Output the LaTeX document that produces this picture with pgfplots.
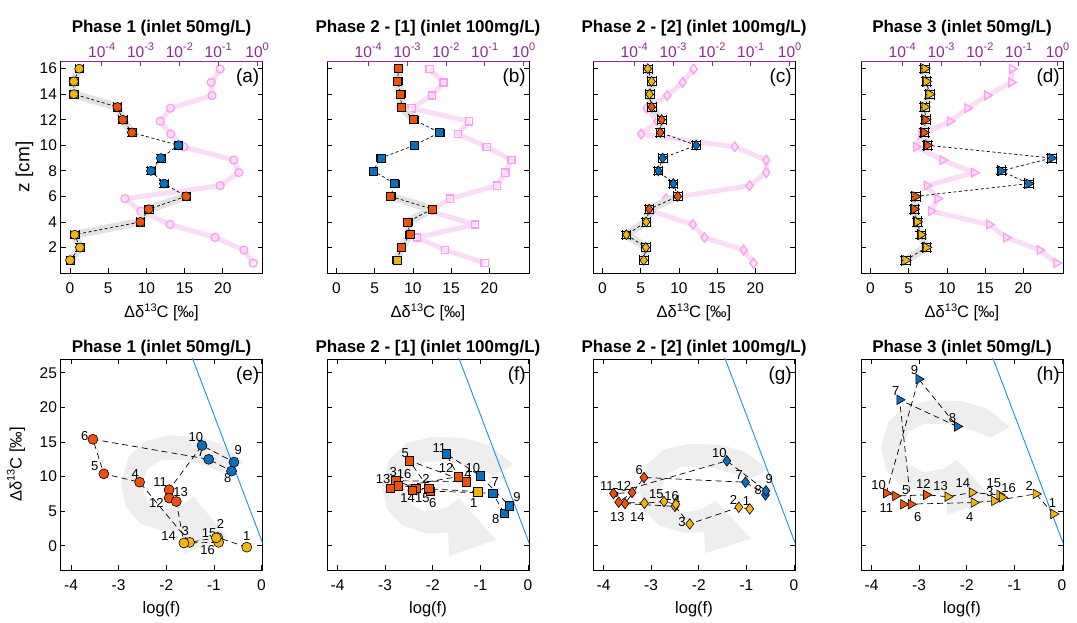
\documentclass[border=0pt]{standalone}
\usepackage{pgfplots}
\pgfplotsset{compat=1.18}
\usepackage{pgfplotstable}
\usepackage{fontspec}
\setmainfont{Liberation Sans}

\definecolor{yel}{HTML}{F2B50F}
\definecolor{org}{HTML}{F04F0E}
\definecolor{blu}{HTML}{0B6FC0}
\definecolor{pinkm}{HTML}{FF9BF5}
\definecolor{pinkb}{HTML}{F9DDF4}
\definecolor{purp}{HTML}{8E2A92}
\definecolor{bline}{HTML}{1F8FDB}
\definecolor{arrowgrey}{HTML}{EEEEEE}
\definecolor{bandgrey}{HTML}{E2E2E2}

\newcommand\tickfont{\fontsize{15.5}{17}\selectfont}
\newcommand\labfont{\fontsize{16.5}{18}\selectfont}
\newcommand\titfont{\fontsize{17}{19}\selectfont\bfseries}
\newcommand\sus[1]{\raisebox{0.42em}{\fontsize{11}{11}\selectfont #1}}
\newcommand\ddc{Δδ\sus{13}C [‰]}

% curved grey arrow (unit shape, placed by each overlay axis' limits)
\pgfplotstableread{
u v
1.58 0.44
1.10 0.85
0.60 1.00
0.00 1.02
-0.50 0.90
-0.85 0.55
-1.00 0.00
-0.90 -0.50
-0.60 -0.85
-0.10 -1.02
0.30 -1.00
0.32 -1.49
1.24 -1.15
0.52 -0.28
0.25 -0.48
-0.15 -0.56
-0.45 -0.38
-0.56 0.00
-0.45 0.32
-0.15 0.50
0.35 0.50
0.85 0.35
1.20 0.20
}\arrowtab

\tikzset{
 lbl/.style={font=\fontsize{13}{13}\selectfont, inner sep=0pt},
 plab/.style={font=\fontsize{19}{19}\selectfont, anchor=north east, inner sep=0pt},
}

\pgfplotsset{
 /pgf/number format/assume math mode=true,
 panel/.style={scale only axis, width=202pt, height=212pt, tick align=inside,
   major tick length=5pt, tick label style={font=\tickfont},
   axis line style={line width=0.7pt}, tick style={line width=0.7pt,black},
   label style={font=\labfont}},
 topmain/.style={panel, xmin=-1.25, xmax=25.2, ymin=0, ymax=16.6,
   xtick={0,5,10,15,20}, ytick={2,4,...,16}, xtick pos=bottom, ytick pos=both,
   xticklabel style={yshift=-6pt},
   xlabel={\ddc}, xlabel style={at={(axis description cs:0.5,0)}, anchor=base, yshift=-45pt},
   title style={at={(axis description cs:0.5,1)}, anchor=base, yshift=22pt, font=\titfont}},
 toplog/.style={panel, xmin=-5.06, xmax=0.14, ymin=0, ymax=16.6, hide axis},
 toplogaxis/.style={panel, xmin=-5.06, xmax=0.14, ymin=0, ymax=16.6,
   axis x line*=top, axis y line=none, x axis line style={purp,-},
   xtick={-4,-3,-2,-1,0},
   xticklabels={10\sus{-4},10\sus{-3},10\sus{-2},10\sus{-1},10\sus{0}},
   xticklabel style={text=purp}, xtick style={purp}},
 bot/.style={panel, height=211pt, xmin=-4.22, xmax=0.02, ymin=-3.5, ymax=27,
   xtick={-4,-3,-2,-1,0}, ytick={0,5,...,25},
   xticklabel style={yshift=-6pt},
   xlabel={log(f)}, xlabel style={at={(axis description cs:0.5,0)}, anchor=base, yshift=-43pt},
   title style={at={(axis description cs:0.5,1)}, anchor=base, yshift=0pt, font=\titfont}},
 grarrow/.style={panel, height=211pt, hide axis},
 pband/.style={pinkb, line width=5pt, line join=round},
 pmark/.style={only marks, mark options={draw=pinkm, fill=white, line width=1.3pt}},
 pmarkt/.style={only marks, mark options={draw=pinkm, fill=white, line width=1.3pt, rotate=-90}},
 gband/.style={bandgrey, line width=8pt, line join=round},
 dline/.style={black, line width=0.7pt, dash pattern=on 3pt off 2.5pt},
 bdline/.style={black, line width=0.7pt, dash pattern=on 6pt off 4pt},
 errs/.style={only marks, error bars/x dir=both, error bars/x fixed=0.55,
   error bars/y dir=both, error bars/y fixed=0.3,
   error bars/error bar style={line width=0.6pt,black}},
 fm/.style={mark options={draw=black, fill=#1, line width=0.6pt}},
 fmt/.style={mark options={draw=black, fill=#1, line width=0.6pt, rotate=-90}},
}

\begin{document}
\begin{tikzpicture}
\path[use as bounding box] (0,0) rectangle (1077pt,622pt);

%================ (a) =================
\begin{axis}[toplog, at={(60.5pt,349pt)}]
\addplot[pband] coordinates {(-0.10,0.78) (-0.34,1.8) (-1.08,2.78) (-2.24,3.8) (-2.99,4.84) (-3.40,5.82) (-0.95,6.84) (-0.47,7.86) (-0.60,8.84) (-1.89,9.88) (-2.22,10.88) (-2.49,11.88) (-2.23,12.9) (-1.16,13.9) (-1.18,14.92) (-0.95,15.97)};
\addplot[pmark, mark=o, mark size=4pt] coordinates {(-0.10,0.78) (-0.34,1.8) (-1.08,2.78) (-2.24,3.8) (-2.99,4.84) (-3.40,5.82) (-0.95,6.84) (-0.47,7.86) (-0.60,8.84) (-1.89,9.88) (-2.22,10.88) (-2.49,11.88) (-2.23,12.9) (-1.16,13.9) (-1.18,14.92) (-0.95,15.97)};
\end{axis}
\begin{axis}[topmain, at={(60.5pt,349pt)}, title={Phase 1 (inlet 50mg/L)},
  ylabel={z [cm]}, ylabel style={at={(axis description cs:-0.154,0.5)}, anchor=base, font=\fontsize{19}{19}\selectfont}]
\addplot[gband] coordinates {(8.1,11) (6.9,12) (6.2,13) (0.5,14) (0.5,15) (1.2,16)};
\addplot[gband] coordinates {(0,1) (1.3,2) (0.6,3) (9.2,4) (10.3,5) (15.2,6)};
\addplot[dline] coordinates {(0,1) (1.3,2) (0.6,3) (9.2,4) (10.3,5) (15.2,6) (12.3,7) (10.6,8) (11.9,9) (14.2,10) (8.1,11) (6.9,12) (6.2,13) (0.5,14) (0.5,15) (1.2,16)};
\addplot[errs, mark=*, mark size=4.5pt, fm=yel] coordinates {(0,1) (1.3,2) (0.6,3) (0.5,14) (0.5,15) (1.2,16)};
\addplot[errs, mark=*, mark size=4.5pt, fm=org] coordinates {(9.2,4) (10.3,5) (15.2,6) (8.1,11) (6.9,12) (6.2,13)};
\addplot[errs, mark=*, mark size=4.5pt, fm=blu] coordinates {(12.3,7) (10.6,8) (11.9,9) (14.2,10)};
\node[plab] at (axis description cs:0.985,0.965) {(a)};
\end{axis}
\begin{axis}[toplogaxis, at={(60.5pt,349pt)}]
\node[font=\tickfont, text=purp, anchor=base] at (axis description cs:-0.03,1) [yshift=6pt] {f [-]};
\end{axis}

%================ (b) =================
\begin{axis}[toplog, at={(327pt,349pt)}]
\addplot[pband] coordinates {(-1.0,0.78) (-2.02,1.8) (-2.74,2.78) (-1.25,3.8) (-2.42,4.84) (-1.89,5.82) (-0.69,6.84) (-0.47,7.86) (-0.31,8.84) (-0.95,9.88) (-1.69,10.88) (-1.41,11.88) (-2.88,12.9) (-2.36,13.9) (-2.06,14.92) (-2.42,15.97)};
\addplot[pmark, mark=square, mark size=3.6pt] coordinates {(-1.0,0.78) (-2.02,1.8) (-2.74,2.78) (-1.25,3.8) (-2.42,4.84) (-1.89,5.82) (-0.69,6.84) (-0.47,7.86) (-0.31,8.84) (-0.95,9.88) (-1.69,10.88) (-1.41,11.88) (-2.88,12.9) (-2.36,13.9) (-2.06,14.92) (-2.42,15.97)};
\end{axis}
\begin{axis}[topmain, at={(327pt,349pt)}, title={Phase 2 - [1] (inlet 100mg/L)}, yticklabels={}]
\addplot[gband] coordinates {(10.1,12) (8.5,13) (8.4,14) (8.0,15) (8.1,16)};
\addplot[gband] coordinates {(7.9,1) (8.5,2) (9.6,3) (9.3,4) (12.5,5) (7.1,6)};
\addplot[dline] coordinates {(7.9,1) (8.5,2) (9.6,3) (9.3,4) (12.5,5) (7.1,6) (7.6,7) (4.8,8) (5.8,9) (10.2,10) (13.5,11) (10.1,12) (8.5,13) (8.4,14) (8.0,15) (8.1,16)};
\addplot[errs, mark=square*, mark size=4pt, fm=yel] coordinates {(7.9,1)};
\addplot[errs, mark=square*, mark size=4pt, fm=org] coordinates {(8.5,2) (9.6,3) (9.3,4) (12.5,5) (7.1,6) (10.1,12) (8.5,13) (8.4,14) (8.0,15) (8.1,16)};
\addplot[errs, mark=square*, mark size=4pt, fm=blu] coordinates {(7.6,7) (4.8,8) (5.8,9) (10.2,10) (13.5,11)};
\node[plab] at (axis description cs:0.985,0.965) {(b)};
\end{axis}
\begin{axis}[toplogaxis, at={(327pt,349pt)}]
\node[font=\tickfont, text=purp, anchor=base] at (axis description cs:-0.03,1) [yshift=6pt] {f [-]};
\end{axis}

%================ (c) =================
\begin{axis}[toplog, at={(593pt,349pt)}]
\addplot[pband] coordinates {(-0.93,0.78) (-1.18,1.8) (-2.19,2.78) (-2.49,3.8) (-3.55,4.84) (-3.18,5.82) (-1.03,6.84) (-0.6,7.86) (-0.6,8.84) (-1.41,9.88) (-3.82,10.88) (-3.40,11.88) (-3.68,12.9) (-3.15,13.9) (-2.75,14.92) (-2.47,15.97)};
\addplot[pmark, mark=diamond, mark size=4.8pt] coordinates {(-0.93,0.78) (-1.18,1.8) (-2.19,2.78) (-2.49,3.8) (-3.55,4.84) (-3.18,5.82) (-1.03,6.84) (-0.6,7.86) (-0.6,8.84) (-1.41,9.88) (-3.82,10.88) (-3.40,11.88) (-3.68,12.9) (-3.15,13.9) (-2.75,14.92) (-2.47,15.97)};
\end{axis}
\begin{axis}[topmain, at={(593pt,349pt)}, title={Phase 2 - [2] (inlet 100mg/L)}, yticklabels={}]
\addplot[gband] coordinates {(7.56,11) (7.74,12) (6.42,13) (6.15,14) (6.42,15) (5.93,16)};
\addplot[gband] coordinates {(5.4,1) (5.67,2) (3.12,3) (5.71,4) (6.11,5) (9.85,6)};
\addplot[dline] coordinates {(5.4,1) (5.67,2) (3.12,3) (5.71,4) (6.11,5) (9.85,6) (9.27,7) (7.3,8) (7.87,9) (12.26,10) (7.56,11) (7.74,12) (6.42,13) (6.15,14) (6.42,15) (5.93,16)};
\addplot[errs, mark=diamond*, mark size=5pt, fm=yel] coordinates {(5.4,1) (5.67,2) (3.12,3) (5.71,4) (6.15,14) (6.42,15) (5.93,16)};
\addplot[errs, mark=diamond*, mark size=5pt, fm=org] coordinates {(6.11,5) (9.85,6) (7.56,11) (7.74,12) (6.42,13)};
\addplot[errs, mark=diamond*, mark size=5pt, fm=blu] coordinates {(9.27,7) (7.3,8) (7.87,9) (12.26,10)};
\node[plab] at (axis description cs:0.985,0.965) {(c)};
\end{axis}
\begin{axis}[toplogaxis, at={(593pt,349pt)}]
\node[font=\tickfont, text=purp, anchor=base] at (axis description cs:-0.03,1) [yshift=6pt] {f [-]};
\end{axis}

%================ (d) =================
\begin{axis}[toplog, at={(861pt,349pt)}]
\addplot[pband] coordinates {(-0.03,0.78) (-0.46,1.8) (-1.32,2.78) (-1.76,3.8) (-3.26,4.84) (-3.09,5.82) (-3.37,6.84) (-2.15,7.86) (-2.96,8.84) (-3.64,9.88) (-3.5,10.88) (-2.77,11.88) (-2.32,12.9) (-1.81,13.9) (-1.19,14.92) (-1.17,15.97)};
\addplot[pmarkt, mark=triangle, mark size=5pt] coordinates {(-0.03,0.78) (-0.46,1.8) (-1.32,2.78) (-1.76,3.8) (-3.26,4.84) (-3.09,5.82) (-3.37,6.84) (-2.15,7.86) (-2.96,8.84) (-3.64,9.88) (-3.5,10.88) (-2.77,11.88) (-2.32,12.9) (-1.81,13.9) (-1.19,14.92) (-1.17,15.97)};
\end{axis}
\begin{axis}[topmain, at={(861pt,349pt)}, title={Phase 3 (inlet 50mg/L)}, yticklabels={}]
\addplot[gband] coordinates {(7.43,10) (7.0,11) (7.2,12) (7.09,13) (7.74,14) (7.3,15) (7.09,16)};
\addplot[gband] coordinates {(4.6,1) (7.3,2) (6.6,3) (6.1,4) (5.7,5) (5.9,6)};
\addplot[dline] coordinates {(4.6,1) (7.3,2) (6.6,3) (6.1,4) (5.7,5) (5.9,6) (20.7,7) (17.1,8) (23.7,9) (7.43,10) (7.0,11) (7.2,12) (7.09,13) (7.74,14) (7.3,15) (7.09,16)};
\addplot[errs, mark=triangle*, mark size=5.5pt, fmt=yel] coordinates {(4.6,1) (7.3,2) (6.6,3) (6.1,4) (7.09,13) (7.74,14) (7.3,15) (7.09,16)};
\addplot[errs, mark=triangle*, mark size=5.5pt, fmt=org] coordinates {(5.7,5) (5.9,6) (7.43,10) (7.0,11) (7.2,12)};
\addplot[errs, mark=triangle*, mark size=5.5pt, fmt=blu] coordinates {(20.7,7) (17.1,8) (23.7,9)};
\node[plab] at (axis description cs:0.985,0.965) {(d)};
\end{axis}
\begin{axis}[toplogaxis, at={(861pt,349pt)}]
\node[font=\tickfont, text=purp, anchor=base] at (axis description cs:-0.03,1) [yshift=6pt] {f [-]};
\end{axis}

%================ (e) =================
\begin{axis}[grarrow, at={(60.5pt,52pt)}, xmin=-2.27, xmax=1.97, ymin=-1.838, ymax=2.647]
\addplot[fill=arrowgrey, draw=none] table {\arrowtab};
\end{axis}
\begin{axis}[bot, at={(60.5pt,52pt)}, title={Phase 1 (inlet 50mg/L)},
  ylabel={\ddc}, ylabel style={at={(axis description cs:-0.193,0.5)}, anchor=base}]
\addplot[bline, line width=0.9pt] coordinates {(-1.5,28.0) (0.05,-0.1)};
\addplot[bdline] coordinates {(-0.31,-0.2) (-0.92,1.2) (-1.51,0.5) (-2.56,9.2) (-3.31,10.4) (-3.54,15.4) (-1.11,12.5) (-0.63,10.8) (-0.58,12.1) (-1.25,14.5) (-1.94,8.1) (-1.94,6.9) (-1.79,6.4) (-1.63,0.4) (-0.90,0.5) (-0.95,1.15)};
\addplot[only marks, mark=*, mark size=5pt, fm=yel] coordinates {(-0.31,-0.2) (-0.92,1.2) (-1.51,0.5) (-1.63,0.4) (-0.90,0.5) (-0.95,1.15)};
\addplot[only marks, mark=*, mark size=5pt, fm=org] coordinates {(-2.56,9.2) (-3.31,10.4) (-3.54,15.4) (-1.94,8.1) (-1.94,6.9) (-1.79,6.4)};
\addplot[only marks, mark=*, mark size=5pt, fm=blu] coordinates {(-1.11,12.5) (-0.63,10.8) (-0.58,12.1) (-1.25,14.5)};
\node[lbl] at (axis cs:-0.31,1.35) {1};
\node[lbl] at (axis cs:-0.86,3.2) {2};
\node[lbl] at (axis cs:-1.60,2.1) {3};
\node[lbl] at (axis cs:-2.65,10.4) {4};
\node[lbl] at (axis cs:-3.50,11.5) {5};
\node[lbl] at (axis cs:-3.71,15.8) {6};
\node[lbl] at (axis cs:-1.27,13.5) {7};
\node[lbl] at (axis cs:-0.71,9.8) {8};
\node[lbl] at (axis cs:-0.49,13.8) {9};
\node[lbl] at (axis cs:-1.38,15.7) {10};
\node[lbl] at (axis cs:-2.13,9.2) {11};
\node[lbl] at (axis cs:-2.21,6.2) {12};
\node[lbl] at (axis cs:-1.70,7.7) {13};
\node[lbl] at (axis cs:-1.95,1.35) {14};
\node[lbl] at (axis cs:-1.10,1.8) {15};
\node[lbl] at (axis cs:-1.13,-0.6) {16};
\node[plab] at (axis description cs:0.985,0.965) {(e)};
\end{axis}

%================ (f) =================
\begin{axis}[grarrow, at={(327pt,52pt)}, xmin=-2.075, xmax=1.888, ymin=-1.788, ymax=2.664]
\addplot[fill=arrowgrey, draw=none] table {\arrowtab};
\end{axis}
\begin{axis}[bot, at={(327pt,52pt)}, title={Phase 2 - [1] (inlet 100mg/L)}, yticklabels={}]
\addplot[bline, line width=0.9pt] coordinates {(-1.5,28.0) (0.05,-0.1)};
\addplot[bdline] coordinates {(-1.05,7.84) (-2.36,8.33) (-2.77,9.4) (-1.30,9.28) (-2.49,12.3) (-2.05,7.9) (-0.74,7.6) (-0.50,4.7) (-0.39,5.76) (-1.00,10.1) (-1.72,13.3) (-1.46,10.0) (-2.89,8.33) (-2.43,8.0) (-2.08,8.3) (-2.72,8.7)};
\addplot[only marks, mark=square*, mark size=4.3pt, fm=yel] coordinates {(-1.05,7.84)};
\addplot[only marks, mark=square*, mark size=4.3pt, fm=org] coordinates {(-2.36,8.33) (-2.77,9.4) (-1.30,9.28) (-2.49,12.3) (-2.05,7.9) (-1.46,10.0) (-2.89,8.33) (-2.43,8.0) (-2.08,8.3) (-2.72,8.7)};
\addplot[only marks, mark=square*, mark size=4.3pt, fm=blu] coordinates {(-0.74,7.6) (-0.50,4.7) (-0.39,5.76) (-1.00,10.1) (-1.72,13.3)};
\node[lbl] at (axis cs:-1.14,6.15) {1};
\node[lbl] at (axis cs:-2.14,9.6) {2};
\node[lbl] at (axis cs:-2.83,10.6) {3};
\node[lbl] at (axis cs:-1.26,10.4) {4};
\node[lbl] at (axis cs:-2.58,13.4) {5};
\node[lbl] at (axis cs:-2.00,6.25) {6};
\node[lbl] at (axis cs:-0.69,9.2) {7};
\node[lbl] at (axis cs:-0.68,3.9) {8};
\node[lbl] at (axis cs:-0.23,7.1) {9};
\node[lbl] at (axis cs:-1.16,11.3) {10};
\node[lbl] at (axis cs:-1.86,14.2) {11};
\node[lbl] at (axis cs:-1.72,11.3) {12};
\node[lbl] at (axis cs:-3.04,9.7) {13};
\node[lbl] at (axis cs:-2.53,6.9) {14};
\node[lbl] at (axis cs:-2.22,6.9) {15};
\node[lbl] at (axis cs:-2.60,10.4) {16};
\node[plab] at (axis description cs:0.985,0.965) {(f)};
\end{axis}

%================ (g) =================
\begin{axis}[grarrow, at={(593pt,52pt)}, xmin=-1.924, xmax=2.114, ymin=-1.873, ymax=2.968]
\addplot[fill=arrowgrey, draw=none] table {\arrowtab};
\end{axis}
\begin{axis}[bot, at={(593pt,52pt)}, title={Phase 2 - [2] (inlet 100mg/L)}, yticklabels={}]
\addplot[bline, line width=0.9pt] coordinates {(-1.5,28.0) (0.05,-0.1)};
\addplot[bdline] coordinates {(-0.93,5.33) (-1.16,5.57) (-2.19,3.16) (-2.50,5.7) (-3.55,6.1) (-3.15,9.87) (-1.02,9.19) (-0.60,7.36) (-0.59,7.94) (-1.41,12.28) (-3.79,7.55) (-3.40,7.7) (-3.68,6.3) (-3.14,6.15) (-2.73,6.4) (-2.48,6.0)};
\addplot[only marks, mark=diamond*, mark size=5.3pt, fm=yel] coordinates {(-0.93,5.33) (-1.16,5.57) (-2.19,3.16) (-2.50,5.7) (-3.14,6.15) (-2.73,6.4) (-2.48,6.0)};
\addplot[only marks, mark=diamond*, mark size=5.3pt, fm=org] coordinates {(-3.55,6.1) (-3.15,9.87) (-3.79,7.55) (-3.40,7.7) (-3.68,6.3)};
\addplot[only marks, mark=diamond*, mark size=5.3pt, fm=blu] coordinates {(-1.02,9.19) (-0.60,7.36) (-0.59,7.94) (-1.41,12.28)};
\node[lbl] at (axis cs:-1.00,6.4) {1};
\node[lbl] at (axis cs:-1.27,6.65) {2};
\node[lbl] at (axis cs:-2.35,3.5) {3};
\node[lbl] at (axis cs:-2.46,6.6) {4};
\node[lbl] at (axis cs:-3.75,7.55) {5};
\node[lbl] at (axis cs:-3.25,10.9) {6};
\node[lbl] at (axis cs:-1.15,10.25) {7};
\node[lbl] at (axis cs:-0.75,8.1) {8};
\node[lbl] at (axis cs:-0.52,9.7) {9};
\node[lbl] at (axis cs:-1.57,13.4) {10};
\node[lbl] at (axis cs:-3.93,8.7) {11};
\node[lbl] at (axis cs:-3.57,8.7) {12};
\node[lbl] at (axis cs:-3.71,4.2) {13};
\node[lbl] at (axis cs:-3.29,4.2) {14};
\node[lbl] at (axis cs:-2.89,7.5) {15};
\node[lbl] at (axis cs:-2.57,7.25) {16};
\node[plab] at (axis description cs:0.985,0.965) {(g)};
\end{axis}

%================ (h) =================
\begin{axis}[grarrow, at={(861pt,52pt)}, xmin=-1.4, xmax=2.638, ymin=-2.697, ymax=1.924]
\addplot[fill=arrowgrey, draw=none] table {\arrowtab};
\end{axis}
\begin{axis}[bot, at={(861pt,52pt)}, title={Phase 3 (inlet 50mg/L)}, yticklabels={}]
\addplot[bline, line width=0.9pt] coordinates {(-1.5,28.0) (0.05,-0.1)};
\addplot[bdline] coordinates {(-0.18,4.6) (-0.55,7.5) (-1.42,6.5) (-1.85,6.25) (-3.33,6.0) (-3.17,6.0) (-3.41,21.1) (-2.20,17.25) (-3.01,24.1) (-3.69,7.6) (-3.50,7.2) (-2.85,7.36) (-2.40,7.1) (-1.89,7.7) (-1.31,7.36) (-1.26,7.0)};
\addplot[only marks, mark=triangle*, mark size=5.5pt, fmt=yel] coordinates {(-0.18,4.6) (-0.55,7.5) (-1.42,6.5) (-1.85,6.25) (-2.40,7.1) (-1.89,7.7) (-1.31,7.36) (-1.26,7.0)};
\addplot[only marks, mark=triangle*, mark size=5.5pt, fmt=org] coordinates {(-3.33,6.0) (-3.17,6.0) (-3.69,7.6) (-3.50,7.2) (-2.85,7.36)};
\addplot[only marks, mark=triangle*, mark size=5.5pt, fmt=blu] coordinates {(-3.41,21.1) (-2.20,17.25) (-3.01,24.1)};
\node[lbl] at (axis cs:-0.20,6.25) {1};
\node[lbl] at (axis cs:-0.69,8.7) {2};
\node[lbl] at (axis cs:-1.52,7.8) {3};
\node[lbl] at (axis cs:-1.94,4.2) {4};
\node[lbl] at (axis cs:-3.28,8.0) {5};
\node[lbl] at (axis cs:-3.03,4.2) {6};
\node[lbl] at (axis cs:-3.49,22.3) {7};
\node[lbl] at (axis cs:-2.30,18.5) {8};
\node[lbl] at (axis cs:-3.10,25.4) {9};
\node[lbl] at (axis cs:-3.85,8.8) {10};
\node[lbl] at (axis cs:-3.69,5.4) {11};
\node[lbl] at (axis cs:-2.91,8.95) {12};
\node[lbl] at (axis cs:-2.55,8.6) {13};
\node[lbl] at (axis cs:-2.08,9.05) {14};
\node[lbl] at (axis cs:-1.43,9.05) {15};
\node[lbl] at (axis cs:-1.12,8.4) {16};
\node[plab] at (axis description cs:0.985,0.965) {(h)};
\end{axis}
\end{tikzpicture}
\end{document}
